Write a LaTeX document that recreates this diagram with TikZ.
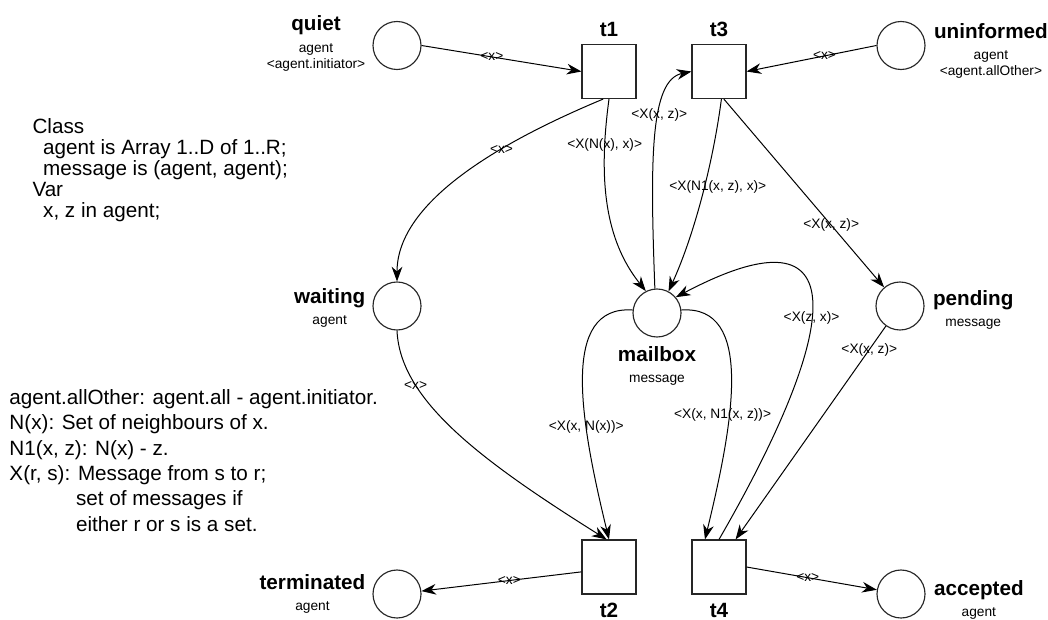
\documentclass[tikz,border=0pt]{standalone}
\usepackage{fontspec}
\setmainfont{Liberation Sans}
\usetikzlibrary{arrows.meta,positioning}

\tikzset{every picture/.style={line width=0.75pt}}
\tikzset{
  place/.style={circle, draw=black!85, line width=0.85pt, minimum size=36pt, inner sep=0pt},
  trans/.style={rectangle, draw=black!85, line width=0.85pt, minimum size=40.5pt, inner sep=0pt},
  pname/.style={align=center, inner sep=0pt, font=\fontsize{10.3}{12}\selectfont},
  tname/.style={inner sep=0pt, font=\fontsize{15.5}{18}\selectfont\bfseries},
  arc/.style={-{Stealth[length=11pt,width=8pt,inset=3.5pt]}},
  inscr/.style={inner sep=0pt, font=\fontsize{10.3}{12}\selectfont},
  decl/.style={align=left, inner sep=0pt, anchor=north west, font=\fontsize{15.5}{15.75}\selectfont}
}
% bold place name over its type (and initial marking)
\newcommand{\placelabel}[2]{{\fontsize{15.5}{18}\selectfont\bfseries #1}\\[4pt]#2}

\begin{document}
\begin{tikzpicture}[x=0.75pt,y=0.75pt,yscale=-1,xscale=1]
\path[use as bounding box, fill=white] (0,0) rectangle (1048,620);

% declarations
\node[decl] (classdecl) at (32,118) {Class\\
  \hspace*{8pt}agent is Array 1..D of 1..R;\\
  \hspace*{8pt}message is (agent, agent);\\
  Var\\
  \hspace*{8pt}x, z in agent;};
\node[decl, font=\fontsize{15.5}{19}\selectfont] (notes) at (9,389) {agent.allOther: agent.all - agent.initiator.\\
  N(x): Set of neighbours of x.\\
  N1(x, z): N(x) - z.\\
  X(r, s): Message from s to r;\\
  \hphantom{X(r, s):\ }set of messages if\\
  \hphantom{X(r, s):\ }either r or s is a set.};

% places
\node[place] (quiet) at (397,45.5) {};
\node[place] (uninformed) at (901,45.5) {};
\node[place] (waiting) at (397,306) {};
\node[place] (mailbox) at (657,313) {};
\node[place] (pending) at (900,306) {};
\node[place] (terminated) at (397,594) {};
\node[place] (accepted) at (901,594) {};

% transitions
\node[trans] (t1) at (609,71.5) {};
\node[trans] (t3) at (719,71.5) {};
\node[trans] (t2) at (609,567) {};
\node[trans] (t4) at (719,567) {};

% names
\node[tname, above=5pt of t1] (t1name) {t1};
\node[tname, above=5pt of t3] (t3name) {t3};
\node[tname, below=6pt of t2] (t2name) {t2};
\node[tname, below=6pt of t4] (t4name) {t4};
\node[pname, left=5pt of quiet, yshift=1.5pt] (quietname) {\placelabel{quiet}{agent\\<agent.initiator>}};
\node[pname, right=6pt of uninformed, yshift=-4pt] (uninformedname) {\placelabel{uninformed}{agent\\<agent.allOther>}};
\node[pname, left=5pt of waiting, yshift=-1.5pt] (waitingname) {\placelabel{waiting}{agent}};
\node[pname, right=6pt of pending, yshift=-3pt] (pendingname) {\placelabel{pending}{message}};
\node[pname, below=6pt of mailbox] (mailboxname) {\placelabel{mailbox}{message}};
\node[pname, left=5pt of terminated] (terminatedname) {\placelabel{terminated}{agent}};
\node[pname, right=6pt of accepted, yshift=-4.5pt] (acceptedname) {\placelabel{accepted}{agent}};

% arcs
\draw[arc] (quiet.east) -- node[inscr, pos=0.44] (i1) {<x>} (t1.west);
\draw[arc] (uninformed.west) -- node[inscr, pos=0.4] (i2) {<x>} (t3.east);
\draw[arc] (t1.258) .. controls (505,140) and (397,200) .. node[inscr, pos=0.35] (i3) {<x>} (waiting.north);
\draw[arc] (t1.south) .. controls (598,180) and (605,240) .. node[inscr, pos=0.2] (i4) {<X(N(x), x)>} (mailbox.117);
\draw[arc] (mailbox.95) .. controls (650,160) and (650,80) .. node[inscr, pos=0.6] (i5) {<X(x, z)>} (t3.west);
\draw[arc] (t3.275) .. controls (712,170) and (692,240) .. node[inscr, pos=0.42, xshift=10pt] (i6) {<X(N1(x, z), x)>} (mailbox.62);
\draw[arc] (t3.280) -- node[inscr, pos=0.67] (i7) {<X(x, z)>} (pending);
\draw[arc] (mailbox.173) .. controls (560,305) and (580,420) .. node[inscr, pos=0.67] (i8) {<X(x, N(x))>} (t2.north);
\draw[arc] (mailbox.7) .. controls (754,305) and (734,420) .. node[inscr, pos=0.63, xshift=-5pt] (i9) {<X(x, N1(x, z))>} (t4.117);
\draw[arc] (t4.north) .. controls (840,330) and (860,200) .. node[inscr, pos=0.45] (i10) {<X(z, x)>} (mailbox.40);
\draw[arc] (pending) -- node[inscr, pos=0.11] (i11) {<X(x, z)>} (t4.59);
\draw[arc] (waiting.south) .. controls (400,400) and (480,460) .. node[inscr, pos=0.27] (i12) {<x>} (t2.95);
\draw[arc] (t2.190) -- node[inscr, pos=0.45] (i13) {<x>} (terminated);
\draw[arc] (t4.east) -- node[inscr, pos=0.47] (i14) {<x>} (accepted);

\end{tikzpicture}
\end{document}
